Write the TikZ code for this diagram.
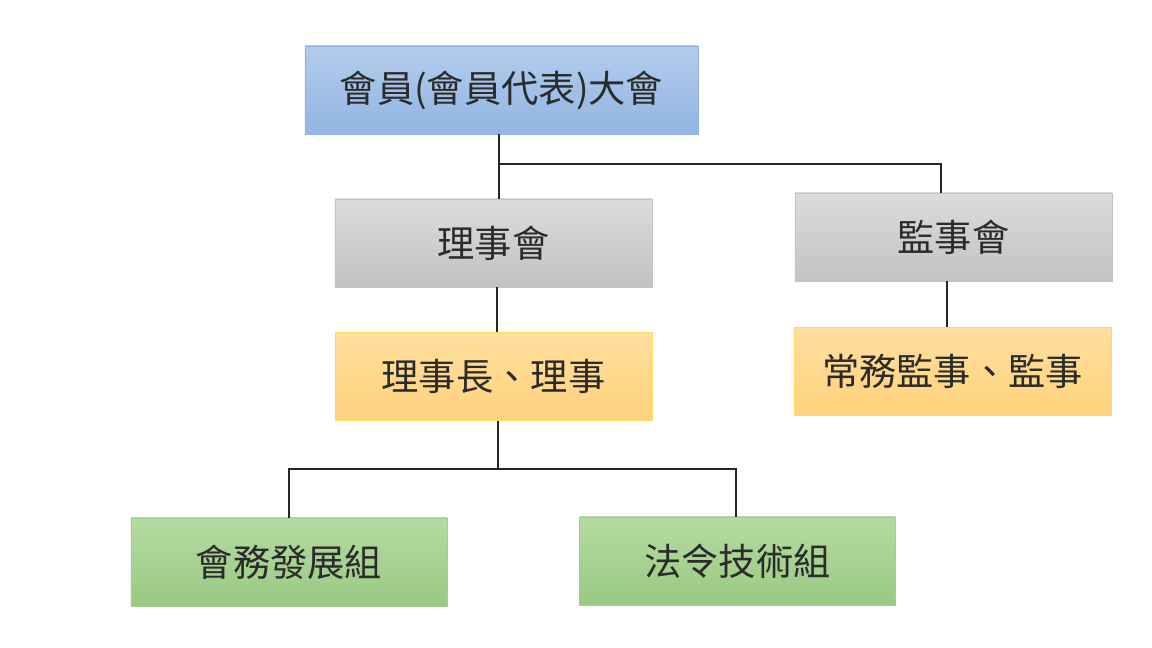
\documentclass[tikz,border=0pt]{standalone}
\usepackage{fontspec}
\usepackage{tikz}
\usetikzlibrary{shapes,arrows}
\newfontfamily\cjk{Noto Sans CJK TC}
\definecolor{bluetop}{HTML}{B3CCEC}
\definecolor{bluebot}{HTML}{92B5E3}
\definecolor{blueedge}{HTML}{8DB3E2}
\definecolor{graytop}{HTML}{DCDCDC}
\definecolor{graybot}{HTML}{C2C2C2}
\definecolor{grayedge}{HTML}{C4C4C4}
\definecolor{yellowtop}{HTML}{FFDF9E}
\definecolor{yellowbot}{HTML}{FFD27D}
\definecolor{yellowedge}{HTML}{FFD966}
\definecolor{greentop}{HTML}{B5DBA3}
\definecolor{greenbot}{HTML}{99C982}
\definecolor{greenedge}{HTML}{A3CF8C}
\definecolor{textgray}{HTML}{2B2B2B}
\tikzstyle{block} = [rectangle, draw, line width=0.6pt, text=textgray, font=\cjk\fontsize{26.5}{30}\selectfont, minimum width=7.925cm, minimum height=2.2cm, inner sep=0pt]
\tikzstyle{assembly} = [block, draw=blueedge, top color=bluetop, bottom color=bluebot, minimum width=9.825cm]
\tikzstyle{board} = [block, draw=grayedge, top color=graytop, bottom color=graybot]
\tikzstyle{officer} = [block, draw=yellowedge, top color=yellowtop, bottom color=yellowbot]
\tikzstyle{group} = [block, draw=greenedge, top color=greentop, bottom color=greenbot, minimum width=7.9cm]
\tikzstyle{line} = [draw, line width=2pt, color=black!85]

\begin{document}
\begin{tikzpicture}[x=0.025cm, y=-0.025cm]
    \useasboundingbox (0,0) rectangle (1152,648);
    % Place nodes
    \node [assembly] (assembly) at (501.5,90) {會員(會員代表)大會};
    \node [board] (directors) at (493.5,243) {理事會};
    \node [board] (supervisors) at (953.5,237) {監事會};
    \node [officer] (chairman) at (493.5,376.5) {理事長、理事};
    \node [officer] (standing) at (952.5,371.5) {常務監事、監事};
    \node [group] (affairs) at (289,562) {會務發展組};
    \node [group] (legal) at (737.5,561) {法令技術組};
    % Draw edges
    \coordinate (split) at (499,164);
    \coordinate (fork) at (498,469);
    \path [line] (assembly.south -| split) -- (directors.north -| split);
    \path [line] (split) -| (supervisors.north -| 941,0);
    \path [line] (directors.south -| 497,0) -- (chairman.north -| 497,0);
    \path [line] (supervisors.south -| 947,0) -- (standing.north -| 947,0);
    \path [line] (chairman.south -| fork) -- (fork);
    \path [line] (fork) -| (affairs.north);
    \path [line] (fork) -| (legal.north -| 736,0);
\end{tikzpicture}
\end{document}
